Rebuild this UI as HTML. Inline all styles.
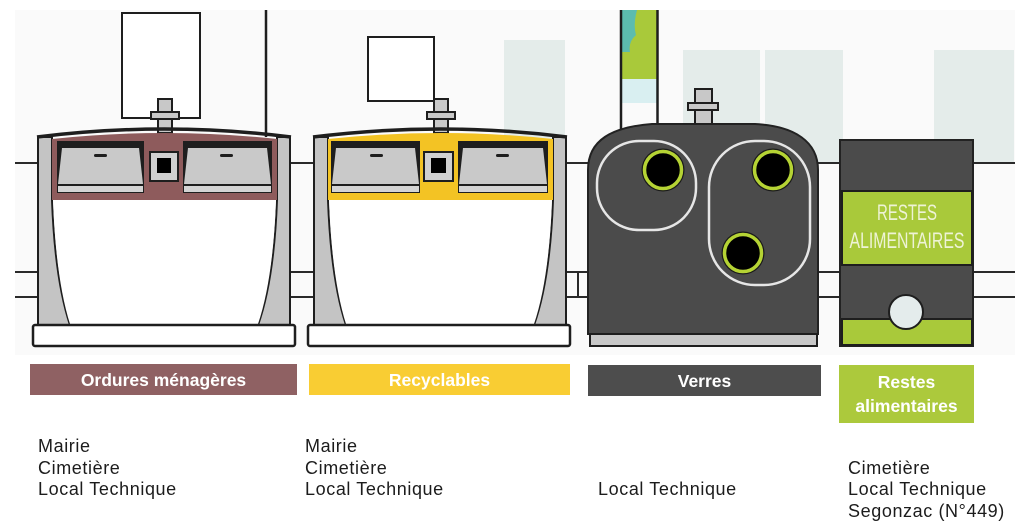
<!DOCTYPE html>
<html><head><meta charset="utf-8">
<style>
html,body{margin:0;padding:0;background:#fff;}
#wrap{position:relative;width:1023px;height:527px;overflow:hidden;background:#fff;font-family:"Liberation Sans",sans-serif;}
svg{position:absolute;left:0;top:0;}
.bar{position:absolute;color:#fff;font-weight:bold;font-size:17.5px;text-align:center;display:flex;align-items:center;justify-content:center;line-height:24px;}
.txt{position:absolute;font-size:18px;line-height:21.5px;letter-spacing:0.6px;color:#1c1c1c;white-space:nowrap;}
</style></head>
<body><div id="wrap">
<svg width="1023" height="527" viewBox="0 0 1023 527" xmlns="http://www.w3.org/2000/svg">
  <rect x="15" y="10" width="1000" height="345" fill="#fafafa"/>
  <!-- windows -->
  <rect x="504" y="40" width="61" height="123" fill="#e4ecea"/>
  <rect x="683" y="50" width="77" height="113" fill="#e4ecea"/>
  <rect x="765" y="50" width="78" height="113" fill="#e4ecea"/>
  <rect x="934" y="50" width="80" height="113" fill="#e4ecea"/>
  <!-- green strip -->
  <rect x="621" y="10" width="37" height="123" fill="#fafafa"/>
  <rect x="621" y="10" width="37" height="70" fill="#a9c93a"/>
  <path d="M621,10 L637,10 Q633,25 636,35 Q628,42 630,52 L621,52 Z" fill="#5cbcae"/>
  <rect x="621" y="79" width="37" height="24" fill="#d9eff1"/>
  <line x1="621" y1="10" x2="621" y2="133" stroke="#1e1e1e" stroke-width="2.5"/>
  <line x1="657.5" y1="10" x2="657.5" y2="133" stroke="#1e1e1e" stroke-width="2.5"/>
  <!-- horizontal lines -->
  <line x1="15" y1="163" x2="1015" y2="163" stroke="#2a2a2a" stroke-width="2"/>
  <line x1="15" y1="272" x2="1015" y2="272" stroke="#2a2a2a" stroke-width="2"/>
  <line x1="15" y1="297" x2="1015" y2="297" stroke="#2a2a2a" stroke-width="2"/>
  <line x1="578" y1="272" x2="578" y2="297" stroke="#2a2a2a" stroke-width="2"/>
  <!-- vertical line bin1 -->
  <line x1="266" y1="10" x2="266" y2="137" stroke="#1e1e1e" stroke-width="2.5"/>
  <!-- signs -->
  <rect x="122" y="13" width="78" height="105" fill="#fff" stroke="#1e1e1e" stroke-width="2"/>
  <rect x="368" y="37" width="66" height="64" fill="#fff" stroke="#1e1e1e" stroke-width="2"/>

  <!-- BIN 1 -->
  <g id="b1">
    <rect x="158" y="99" width="14" height="34" fill="#c8c8c8" stroke="#1e1e1e" stroke-width="2"/>
    <rect x="151" y="112" width="28" height="7" fill="#c8c8c8" stroke="#1e1e1e" stroke-width="2"/>
    <path d="M38,137 L52,137 L52,200 Q55,280 70,325 L38,325 Z" fill="#c4c4c4" stroke="#1e1e1e" stroke-width="2"/>
    <path d="M290,137 L277,137 L277,200 Q274,280 258,325 L290,325 Z" fill="#c4c4c4" stroke="#1e1e1e" stroke-width="2"/>
    <path d="M53,200 L276,200 Q273,280 258,324 L70,324 Q56,280 53,200 Z" fill="#fff"/>
    <path d="M52,139 Q165,127 277,139 L277,200 L52,200 Z" fill="#8e5b5c"/>
    <path d="M37,137 Q165,121 291,137" fill="none" stroke="#1e1e1e" stroke-width="3.5"/>
    <rect x="57" y="141" width="87" height="52" fill="#1e1e1e"/>
    <polygon points="62,148 139,148 143,184 58,184" fill="#c9c9c9"/>
    <rect x="58" y="186" width="85" height="6" fill="#d4d4d4"/>
    <rect x="94" y="154" width="13" height="3" rx="1.5" fill="#1e1e1e"/>
    <rect x="183" y="141" width="89" height="52" fill="#1e1e1e"/>
    <polygon points="188,148 267,148 271,184 184,184" fill="#c9c9c9"/>
    <rect x="184" y="186" width="87" height="6" fill="#d4d4d4"/>
    <rect x="220" y="154" width="13" height="3" rx="1.5" fill="#1e1e1e"/>
    <rect x="150" y="152" width="28" height="29" fill="#d0d0d0" stroke="#1e1e1e" stroke-width="2"/>
    <rect x="157" y="158" width="14" height="15" fill="#000"/>
    <rect x="33" y="325" width="262" height="21" rx="2" fill="#fff" stroke="#1e1e1e" stroke-width="2.5"/>
  </g>

  <!-- BIN 2 -->
  <g transform="translate(276,0)">
    <rect x="158" y="99" width="14" height="34" fill="#c8c8c8" stroke="#1e1e1e" stroke-width="2"/>
    <rect x="151" y="112" width="28" height="7" fill="#c8c8c8" stroke="#1e1e1e" stroke-width="2"/>
    <path d="M38,137 L52,137 L52,200 Q55,280 70,325 L38,325 Z" fill="#c4c4c4" stroke="#1e1e1e" stroke-width="2"/>
    <path d="M290,137 L277,137 L277,200 Q274,280 258,325 L290,325 Z" fill="#c4c4c4" stroke="#1e1e1e" stroke-width="2"/>
    <path d="M53,200 L276,200 Q273,280 258,324 L70,324 Q56,280 53,200 Z" fill="#fff"/>
    <path d="M52,139 Q165,127 277,139 L277,200 L52,200 Z" fill="#f3c324"/>
    <path d="M37,137 Q165,121 291,137" fill="none" stroke="#1e1e1e" stroke-width="3.5"/>
    <rect x="55" y="141" width="89" height="52" fill="#1e1e1e"/>
    <polygon points="60,148 139,148 143,184 56,184" fill="#c9c9c9"/>
    <rect x="56" y="186" width="87" height="6" fill="#d4d4d4"/>
    <rect x="94" y="154" width="13" height="3" rx="1.5" fill="#1e1e1e"/>
    <rect x="182" y="141" width="90" height="52" fill="#1e1e1e"/>
    <polygon points="187,148 267,148 271,184 183,184" fill="#c9c9c9"/>
    <rect x="183" y="186" width="88" height="6" fill="#d4d4d4"/>
    <rect x="220" y="154" width="13" height="3" rx="1.5" fill="#1e1e1e"/>
    <rect x="148" y="152" width="29" height="29" fill="#d0d0d0" stroke="#1e1e1e" stroke-width="2"/>
    <rect x="155" y="158" width="15" height="15" fill="#000"/>
    <rect x="32" y="325" width="262" height="21" rx="2" fill="#fff" stroke="#1e1e1e" stroke-width="2.5"/>
  </g>

  <!-- BIN 3 Verres -->
  <rect x="695" y="89" width="17" height="37" fill="#c8c8c8" stroke="#1e1e1e" stroke-width="2"/>
  <rect x="688" y="103" width="30" height="7" fill="#c8c8c8" stroke="#1e1e1e" stroke-width="2"/>
  <path d="M588,334 L588,170 C588,140 612,127 652,124 L755,124 C795,126 818,142 818,170 L818,334 Z" fill="#4b4b4b" stroke="#222" stroke-width="2"/>
  <rect x="590" y="334" width="227" height="12" fill="#c8c8c8" stroke="#1e1e1e" stroke-width="2"/>
  <rect x="597" y="141" width="99" height="89" rx="42" fill="none" stroke="#e6e6e6" stroke-width="2.5"/>
  <rect x="709" y="141" width="101" height="144" rx="46" fill="none" stroke="#e6e6e6" stroke-width="2.5"/>
  <g>
    <circle cx="663" cy="170" r="21.5" fill="#1a1a1a"/>
    <circle cx="663" cy="170" r="18.5" fill="#000" stroke="#b5d334" stroke-width="3.5"/>
    <circle cx="773" cy="170" r="21.5" fill="#1a1a1a"/>
    <circle cx="773" cy="170" r="18.5" fill="#000" stroke="#b5d334" stroke-width="3.5"/>
    <circle cx="743" cy="253" r="21.5" fill="#1a1a1a"/>
    <circle cx="743" cy="253" r="18.5" fill="#000" stroke="#b5d334" stroke-width="3.5"/>
  </g>

  <!-- BIN 4 Restes -->
  <rect x="840" y="140" width="133" height="206" fill="#4b4b4b" stroke="#222" stroke-width="2"/>
  <rect x="842" y="191" width="130" height="74" fill="#a9c93a" stroke="#1e1e1e" stroke-width="2"/>
  <text x="907" y="220" text-anchor="middle" font-family="Liberation Sans, sans-serif" font-size="22" fill="#eef3d6" textLength="60" lengthAdjust="spacingAndGlyphs">RESTES</text>
  <text x="907" y="248" text-anchor="middle" font-family="Liberation Sans, sans-serif" font-size="22" fill="#eef3d6" textLength="115" lengthAdjust="spacingAndGlyphs">ALIMENTAIRES</text>
  <rect x="842" y="319" width="130" height="26" fill="#a9c93a" stroke="#1e1e1e" stroke-width="2"/>
  <circle cx="906" cy="312" r="17" fill="#e4ecec" stroke="#1e1e1e" stroke-width="2"/>
</svg>

<div class="bar" style="left:30px;top:364px;width:267px;height:31px;background:#8f6163;">Ordures ménagères</div>
<div class="bar" style="left:309px;top:364px;width:261px;height:31px;background:#f9cd33;">Recyclables</div>
<div class="bar" style="left:588px;top:365px;width:233px;height:31px;background:#4d4d4d;">Verres</div>
<div class="bar" style="left:839px;top:365px;width:135px;height:58px;background:#acc93c;flex-direction:column;">Restes<br>alimentaires</div>

<div class="txt" style="left:38px;top:436px;">Mairie<br>Cimetière<br>Local Technique</div>
<div class="txt" style="left:305px;top:436px;">Mairie<br>Cimetière<br>Local Technique</div>
<div class="txt" style="left:598px;top:479px;">Local Technique</div>
<div class="txt" style="left:848px;top:457.5px;">Cimetière<br>Local Technique<br>Segonzac (N°449)</div>
</div></body></html>
